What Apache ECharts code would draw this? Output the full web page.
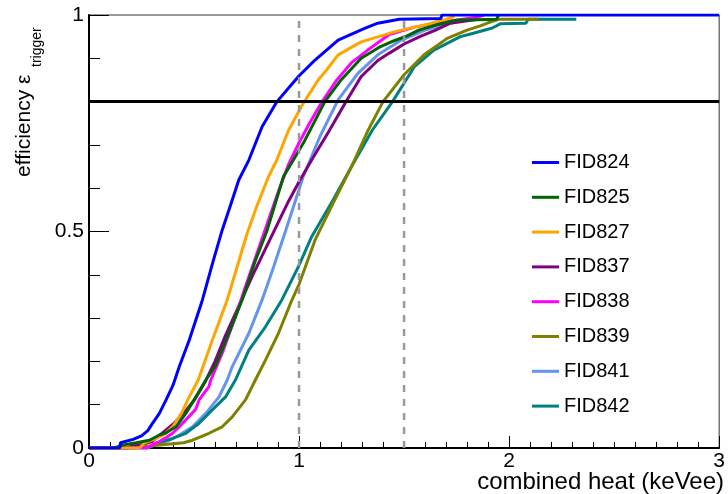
<!DOCTYPE html>
<html>
<head>
<meta charset="utf-8">
<script src="https://cdn.jsdelivr.net/npm/echarts@6/dist/echarts.min.js"></script>
<style>
  html, body { margin: 0; padding: 0; background: #fff; }
  #chart { width: 728px; height: 494px; }
</style>
</head>
<body>
<div id="chart"></div>
<script>
// ---- data ----
const seriesNames = ['FID824', 'FID825', 'FID827', 'FID837', 'FID838', 'FID839', 'FID841', 'FID842'];

const fid824 = [[0,0],[0.146,0],[0.15,0.012],[0.21,0.02],[0.25,0.028],[0.28,0.04],[0.30,0.055],[0.335,0.08],[0.367,0.111],[0.40,0.145],[0.43,0.188],[0.477,0.249],[0.54,0.342],[0.59,0.43],[0.634,0.503],[0.68,0.57],[0.713,0.619],[0.761,0.665],[0.824,0.742],[0.895,0.8],[0.997,0.858],[1.076,0.896],[1.186,0.942],[1.312,0.969],[1.375,0.981],[1.477,0.99],[1.675,0.992],[1.68,1.0],[3,1]];
const fid825 = [[0,0],[0.12,0],[0.162,0.007],[0.225,0.012],[0.288,0.018],[0.335,0.03],[0.367,0.035],[0.414,0.049],[0.461,0.08],[0.509,0.118],[0.556,0.157],[0.603,0.19],[0.666,0.265],[0.729,0.342],[0.79,0.43],[0.846,0.5],[0.89,0.57],[0.926,0.627],[0.973,0.665],[1.028,0.711],[1.123,0.8],[1.20,0.85],[1.296,0.9],[1.38,0.925],[1.45,0.94],[1.52,0.953],[1.57,0.965],[1.66,0.978],[1.75,0.988],[1.94,0.99],[1.95,1.0]];
const fid827 = [[0,0],[0.24,0],[0.265,0.012],[0.28,0.015],[0.32,0.022],[0.36,0.032],[0.40,0.05],[0.44,0.08],[0.477,0.118],[0.52,0.157],[0.587,0.249],[0.658,0.342],[0.70,0.41],[0.753,0.496],[0.80,0.56],[0.855,0.627],[0.894,0.665],[0.95,0.734],[1.02,0.796],[1.091,0.85],[1.131,0.873],[1.186,0.908],[1.296,0.938],[1.454,0.961],[1.55,0.972],[1.61,0.978],[1.66,0.985],[1.70,0.99],[1.74,0.997]];
const fid837 = [[0,0],[0.18,0],[0.20,0.004],[0.25,0.008],[0.30,0.015],[0.35,0.035],[0.40,0.055],[0.45,0.08],[0.50,0.11],[0.55,0.15],[0.60,0.2],[0.65,0.26],[0.72,0.335],[0.78,0.4],[0.84,0.46],[0.89,0.51],[0.95,0.57],[1.0,0.615],[1.06,0.665],[1.14,0.73],[1.224,0.8],[1.296,0.858],[1.375,0.895],[1.43,0.912],[1.50,0.933],[1.58,0.951],[1.65,0.965],[1.72,0.981],[1.85,0.99]];
const fid838 = [[0,0],[0.28,0],[0.30,0.007],[0.335,0.015],[0.37,0.025],[0.398,0.034],[0.43,0.049],[0.461,0.065],[0.509,0.09],[0.524,0.111],[0.571,0.142],[0.58,0.157],[0.634,0.219],[0.697,0.303],[0.75,0.38],[0.80,0.45],[0.85,0.52],[0.90,0.59],[0.95,0.655],[1.0,0.705],[1.05,0.75],[1.11,0.8],[1.18,0.85],[1.25,0.89],[1.327,0.919],[1.43,0.955],[1.55,0.972],[1.70,0.985],[1.85,0.995],[1.88,1.0]];
const fid839 = [[0,0],[0.20,0],[0.26,0.003],[0.36,0.008],[0.45,0.012],[0.493,0.018],[0.571,0.034],[0.634,0.049],[0.682,0.072],[0.745,0.111],[0.792,0.157],[0.84,0.203],[0.902,0.265],[0.96,0.335],[1.0,0.378],[1.076,0.48],[1.17,0.573],[1.25,0.65],[1.33,0.735],[1.40,0.8],[1.50,0.862],[1.595,0.908],[1.705,0.946],[1.80,0.965],[1.863,0.975],[1.90,0.982],[1.95,0.99],[2.14,0.99]];
const fid841 = [[0,0],[0.27,0],[0.30,0.005],[0.335,0.011],[0.383,0.018],[0.43,0.03],[0.493,0.049],[0.556,0.08],[0.619,0.118],[0.658,0.157],[0.682,0.188],[0.761,0.265],[0.824,0.342],[0.88,0.42],[0.935,0.5],[1.02,0.627],[1.10,0.72],[1.186,0.804],[1.28,0.865],[1.375,0.908],[1.48,0.94],[1.60,0.965],[1.75,0.985],[1.85,0.995]];
const fid842 = [[0,0],[0.28,0],[0.32,0.011],[0.398,0.022],[0.461,0.034],[0.524,0.057],[0.587,0.088],[0.65,0.118],[0.697,0.157],[0.761,0.226],[0.84,0.28],[0.918,0.342],[0.997,0.419],[1.06,0.488],[1.162,0.573],[1.25,0.65],[1.35,0.735],[1.445,0.8],[1.548,0.88],[1.642,0.919],[1.768,0.95],[1.83,0.958],[1.92,0.97],[1.96,0.98],[2.08,0.981],[2.09,0.99],[2.32,0.99]];

const thresholdY = 0.8;
const dashedX = [1, 1.5];
const xRange = [0, 3];
const yRange = [0, 1];

const colors = {
  FID824: '#0000ff', FID825: '#006400', FID827: '#ffa500', FID837: '#800080',
  FID838: '#ff00ff', FID839: '#808000', FID841: '#6495ed', FID842: '#008080'
};
const dataByName = {
  FID824: fid824, FID825: fid825, FID827: fid827, FID837: fid837,
  FID838: fid838, FID839: fid839, FID841: fid841, FID842: fid842
};
// drawing order (bottom -> top)
const drawOrder = ['FID841', 'FID842', 'FID839', 'FID837', 'FID838', 'FID827', 'FID825', 'FID824'];

const FONT = "'Liberation Sans', Arial, Helvetica, sans-serif";

const curveSeries = drawOrder.map(name => ({
  name: name,
  type: 'line',
  data: dataByName[name],
  showSymbol: false,
  symbol: 'none',
  lineStyle: { width: 3, color: colors[name] },
  itemStyle: { color: colors[name] },
  silent: true
}));

const refSeries = [
  ...dashedX.map(x => ({
    type: 'line', data: [[x, yRange[0]], [x, yRange[1]]], symbol: 'none', silent: true,
    lineStyle: { color: '#999999', width: 2.5, type: [7, 7] }, z: 5
  })),
  {
    type: 'line', data: [[xRange[0], thresholdY], [xRange[1], thresholdY]], symbol: 'none', silent: true,
    lineStyle: { color: '#000000', width: 3 }, z: 6
  }
];

const chart = echarts.init(document.getElementById('chart'), null, { renderer: 'canvas' });
chart.setOption({
  animation: false,
  backgroundColor: '#ffffff',
  textStyle: { fontFamily: FONT },
  grid: { left: 89, right: 4, top: 15, bottom: 46, show: true, borderColor: '#333', borderWidth: 1, backgroundColor: 'transparent' },
  xAxis: {
    type: 'value', min: xRange[0], max: xRange[1], interval: 1,
    axisLine: { show: true, onZero: false, lineStyle: { color: '#000', width: 2 } },
    axisTick: { show: true, inside: true, length: 12, lineStyle: { color: '#000', width: 1 } },
    minorTick: { show: true, splitNumber: 10, length: 6, lineStyle: { color: '#000', width: 1 } },
    splitLine: { show: false },
    axisLabel: { fontSize: 21, color: '#000', margin: 3, fontFamily: FONT, showMaxLabel: true, showMinLabel: true }
  },
  yAxis: {
    type: 'value', min: yRange[0], max: yRange[1], interval: 0.5,
    axisLine: { show: true, onZero: false, lineStyle: { color: '#000', width: 2 } },
    axisTick: { show: true, inside: true, length: 20, lineStyle: { color: '#000', width: 1 } },
    minorTick: { show: true, splitNumber: 5, length: 11, lineStyle: { color: '#000', width: 1 } },
    splitLine: { show: false },
    axisLabel: { fontSize: 21, color: '#000', margin: 5, fontFamily: FONT }
  },
  legend: {
    data: seriesNames,
    orient: 'vertical',
    left: 532, top: 152.5,
    padding: 0,
    itemGap: 14.8, itemWidth: 27, itemHeight: 3,
    icon: 'rect',
    textStyle: { fontSize: 20, lineHeight: 20, color: '#000', fontFamily: FONT },
    selectedMode: false
  },
  graphic: [
    { type: 'text', right: 4, top: 470, style: { text: 'combined heat (keVee)', fontSize: 24, fill: '#000', fontFamily: FONT } },
    { type: 'text', x: 24, y: 177, rotation: Math.PI / 2,
      style: { text: 'efficiency ε', fontSize: 21, fill: '#000', fontFamily: FONT, textAlign: 'left', textVerticalAlign: 'middle' } },
    { type: 'text', x: 37, y: 67, rotation: Math.PI / 2,
      style: { text: 'trigger', fontSize: 14, fill: '#000', fontFamily: FONT, textAlign: 'left', textVerticalAlign: 'middle' } }
  ],
  series: [...curveSeries, ...refSeries]
});
</script>
</body>
</html>
